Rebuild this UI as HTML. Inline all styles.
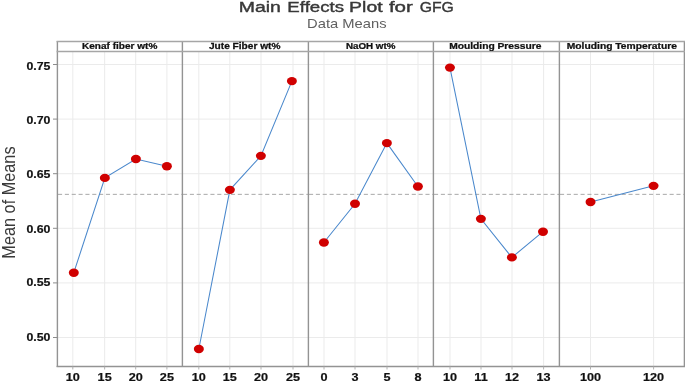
<!DOCTYPE html><html><head><meta charset="utf-8"><style>html,body{margin:0;padding:0;background:#fff;overflow:hidden}svg{display:block;will-change:transform}text{font-family:"Liberation Sans",sans-serif}</style></head><body>
<svg width="685" height="381" viewBox="0 0 685 381">
<rect width="685" height="381" fill="#fff"/>
<text transform="translate(238.70,11.6) scale(1.297,1)" font-size="15" fill="#383838" stroke="#383838" stroke-width="0.4" class="title">Main</text>
<text transform="translate(287.35,11.6) scale(1.245,1)" font-size="15" fill="#383838" stroke="#383838" stroke-width="0.4" class="title">Effects</text>
<text transform="translate(349.10,11.6) scale(1.296,1)" font-size="15" fill="#383838" stroke="#383838" stroke-width="0.4" class="title">Plot</text>
<text transform="translate(388.90,11.6) scale(1.372,1)" font-size="15" fill="#383838" stroke="#383838" stroke-width="0.4" class="title">for</text>
<text transform="translate(419.70,11.6) scale(1.053,1)" font-size="15" fill="#383838" stroke="#383838" stroke-width="0.4" class="title">GFG</text>
<text transform="translate(346.8,27.7) scale(1.18,1)" text-anchor="middle" font-size="12.5" fill="#606060" id="sub">Data Means</text>
<text transform="translate(15.4,202.55) scale(1.18,1) rotate(-90)" text-anchor="middle" font-size="16.3" fill="#3a3a3a" id="ylab">Mean of Means</text>
<line x1="57.5" x2="182.5" y1="64.50" y2="64.50" stroke="#ebebeb" stroke-width="1"/>
<line x1="57.5" x2="182.5" y1="119.10" y2="119.10" stroke="#ebebeb" stroke-width="1"/>
<line x1="57.5" x2="182.5" y1="173.70" y2="173.70" stroke="#ebebeb" stroke-width="1"/>
<line x1="57.5" x2="182.5" y1="228.30" y2="228.30" stroke="#ebebeb" stroke-width="1"/>
<line x1="57.5" x2="182.5" y1="282.90" y2="282.90" stroke="#ebebeb" stroke-width="1"/>
<line x1="57.5" x2="182.5" y1="337.50" y2="337.50" stroke="#ebebeb" stroke-width="1"/>
<line x1="72.80" x2="72.80" y1="51.5" y2="366.5" stroke="#ebebeb" stroke-width="1"/>
<line x1="104.65" x2="104.65" y1="51.5" y2="366.5" stroke="#ebebeb" stroke-width="1"/>
<line x1="135.70" x2="135.70" y1="51.5" y2="366.5" stroke="#ebebeb" stroke-width="1"/>
<line x1="166.90" x2="166.90" y1="51.5" y2="366.5" stroke="#ebebeb" stroke-width="1"/>
<line x1="182.5" x2="308.5" y1="64.50" y2="64.50" stroke="#ebebeb" stroke-width="1"/>
<line x1="182.5" x2="308.5" y1="119.10" y2="119.10" stroke="#ebebeb" stroke-width="1"/>
<line x1="182.5" x2="308.5" y1="173.70" y2="173.70" stroke="#ebebeb" stroke-width="1"/>
<line x1="182.5" x2="308.5" y1="228.30" y2="228.30" stroke="#ebebeb" stroke-width="1"/>
<line x1="182.5" x2="308.5" y1="282.90" y2="282.90" stroke="#ebebeb" stroke-width="1"/>
<line x1="182.5" x2="308.5" y1="337.50" y2="337.50" stroke="#ebebeb" stroke-width="1"/>
<line x1="198.80" x2="198.80" y1="51.5" y2="366.5" stroke="#ebebeb" stroke-width="1"/>
<line x1="229.80" x2="229.80" y1="51.5" y2="366.5" stroke="#ebebeb" stroke-width="1"/>
<line x1="261.00" x2="261.00" y1="51.5" y2="366.5" stroke="#ebebeb" stroke-width="1"/>
<line x1="293.00" x2="293.00" y1="51.5" y2="366.5" stroke="#ebebeb" stroke-width="1"/>
<line x1="308.5" x2="433.5" y1="64.50" y2="64.50" stroke="#ebebeb" stroke-width="1"/>
<line x1="308.5" x2="433.5" y1="119.10" y2="119.10" stroke="#ebebeb" stroke-width="1"/>
<line x1="308.5" x2="433.5" y1="173.70" y2="173.70" stroke="#ebebeb" stroke-width="1"/>
<line x1="308.5" x2="433.5" y1="228.30" y2="228.30" stroke="#ebebeb" stroke-width="1"/>
<line x1="308.5" x2="433.5" y1="282.90" y2="282.90" stroke="#ebebeb" stroke-width="1"/>
<line x1="308.5" x2="433.5" y1="337.50" y2="337.50" stroke="#ebebeb" stroke-width="1"/>
<line x1="324.00" x2="324.00" y1="51.5" y2="366.5" stroke="#ebebeb" stroke-width="1"/>
<line x1="355.00" x2="355.00" y1="51.5" y2="366.5" stroke="#ebebeb" stroke-width="1"/>
<line x1="387.00" x2="387.00" y1="51.5" y2="366.5" stroke="#ebebeb" stroke-width="1"/>
<line x1="418.00" x2="418.00" y1="51.5" y2="366.5" stroke="#ebebeb" stroke-width="1"/>
<line x1="433.5" x2="559.5" y1="64.50" y2="64.50" stroke="#ebebeb" stroke-width="1"/>
<line x1="433.5" x2="559.5" y1="119.10" y2="119.10" stroke="#ebebeb" stroke-width="1"/>
<line x1="433.5" x2="559.5" y1="173.70" y2="173.70" stroke="#ebebeb" stroke-width="1"/>
<line x1="433.5" x2="559.5" y1="228.30" y2="228.30" stroke="#ebebeb" stroke-width="1"/>
<line x1="433.5" x2="559.5" y1="282.90" y2="282.90" stroke="#ebebeb" stroke-width="1"/>
<line x1="433.5" x2="559.5" y1="337.50" y2="337.50" stroke="#ebebeb" stroke-width="1"/>
<line x1="450.00" x2="450.00" y1="51.5" y2="366.5" stroke="#ebebeb" stroke-width="1"/>
<line x1="481.00" x2="481.00" y1="51.5" y2="366.5" stroke="#ebebeb" stroke-width="1"/>
<line x1="512.00" x2="512.00" y1="51.5" y2="366.5" stroke="#ebebeb" stroke-width="1"/>
<line x1="543.60" x2="543.60" y1="51.5" y2="366.5" stroke="#ebebeb" stroke-width="1"/>
<line x1="559.5" x2="684.5" y1="64.50" y2="64.50" stroke="#ebebeb" stroke-width="1"/>
<line x1="559.5" x2="684.5" y1="119.10" y2="119.10" stroke="#ebebeb" stroke-width="1"/>
<line x1="559.5" x2="684.5" y1="173.70" y2="173.70" stroke="#ebebeb" stroke-width="1"/>
<line x1="559.5" x2="684.5" y1="228.30" y2="228.30" stroke="#ebebeb" stroke-width="1"/>
<line x1="559.5" x2="684.5" y1="282.90" y2="282.90" stroke="#ebebeb" stroke-width="1"/>
<line x1="559.5" x2="684.5" y1="337.50" y2="337.50" stroke="#ebebeb" stroke-width="1"/>
<line x1="590.50" x2="590.50" y1="51.5" y2="366.5" stroke="#ebebeb" stroke-width="1"/>
<line x1="653.60" x2="653.60" y1="51.5" y2="366.5" stroke="#ebebeb" stroke-width="1"/>
<line x1="58.0" x2="182.5" y1="194.35" y2="194.35" stroke="#a8a8a8" stroke-width="1" stroke-dasharray="4.1 2.75"/>
<line x1="183.0" x2="308.5" y1="194.35" y2="194.35" stroke="#a8a8a8" stroke-width="1" stroke-dasharray="4.1 2.75"/>
<line x1="309.0" x2="433.5" y1="194.35" y2="194.35" stroke="#a8a8a8" stroke-width="1" stroke-dasharray="4.1 2.75"/>
<line x1="434.0" x2="559.5" y1="194.35" y2="194.35" stroke="#a8a8a8" stroke-width="1" stroke-dasharray="4.1 2.75"/>
<line x1="560.0" x2="684.5" y1="194.35" y2="194.35" stroke="#a8a8a8" stroke-width="1" stroke-dasharray="4.1 2.75"/>
<line x1="57.4" x2="57.4" y1="40.9" y2="367.1" stroke="#939393" stroke-width="1.4"/>
<line x1="182.4" x2="182.4" y1="40.9" y2="367.1" stroke="#939393" stroke-width="1.4"/>
<line x1="308.4" x2="308.4" y1="40.9" y2="367.1" stroke="#939393" stroke-width="1.4"/>
<line x1="433.4" x2="433.4" y1="40.9" y2="367.1" stroke="#939393" stroke-width="1.4"/>
<line x1="559.4" x2="559.4" y1="40.9" y2="367.1" stroke="#939393" stroke-width="1.4"/>
<line x1="684.4" x2="684.4" y1="40.9" y2="367.1" stroke="#939393" stroke-width="1.4"/>
<line x1="56.6" x2="685.4" y1="41.5" y2="41.5" stroke="#a6a6a6" stroke-width="1.6"/>
<line x1="56.6" x2="685.4" y1="51.5" y2="51.5" stroke="#a6a6a6" stroke-width="1.6"/>
<line x1="56.6" x2="685.4" y1="366.5" y2="366.5" stroke="#939393" stroke-width="1.6"/>
<line x1="53" x2="57.5" y1="64.50" y2="64.50" stroke="#8c8c8c" stroke-width="1"/>
<text transform="translate(50.4,69.80) scale(1.12,1)" text-anchor="end" font-size="11" font-weight="bold" fill="#111" stroke="#111" stroke-width="0.2">0.75</text>
<line x1="53" x2="57.5" y1="119.10" y2="119.10" stroke="#8c8c8c" stroke-width="1"/>
<text transform="translate(50.4,123.70) scale(1.12,1)" text-anchor="end" font-size="11" font-weight="bold" fill="#111" stroke="#111" stroke-width="0.2">0.70</text>
<line x1="53" x2="57.5" y1="173.70" y2="173.70" stroke="#8c8c8c" stroke-width="1"/>
<text transform="translate(50.4,177.60) scale(1.12,1)" text-anchor="end" font-size="11" font-weight="bold" fill="#111" stroke="#111" stroke-width="0.2">0.65</text>
<line x1="53" x2="57.5" y1="228.30" y2="228.30" stroke="#8c8c8c" stroke-width="1"/>
<text transform="translate(50.4,232.90) scale(1.12,1)" text-anchor="end" font-size="11" font-weight="bold" fill="#111" stroke="#111" stroke-width="0.2">0.60</text>
<line x1="53" x2="57.5" y1="282.90" y2="282.90" stroke="#8c8c8c" stroke-width="1"/>
<text transform="translate(50.4,286.40) scale(1.12,1)" text-anchor="end" font-size="11" font-weight="bold" fill="#111" stroke="#111" stroke-width="0.2">0.55</text>
<line x1="53" x2="57.5" y1="337.50" y2="337.50" stroke="#8c8c8c" stroke-width="1"/>
<text transform="translate(50.4,341.20) scale(1.12,1)" text-anchor="end" font-size="11" font-weight="bold" fill="#111" stroke="#111" stroke-width="0.2">0.50</text>
<text transform="translate(119.65,49) scale(1.184,1)" text-anchor="middle" font-size="8.5" font-weight="bold" fill="#111" stroke="#111" stroke-width="0.25" class="strip">Kenaf fiber wt%</text>
<line x1="72.80" x2="72.80" y1="366.5" y2="369.5" stroke="#b0b0b0" stroke-width="1"/>
<text transform="translate(72.80,381.1) scale(1.15,1)" text-anchor="middle" font-size="11" font-weight="bold" fill="#111" stroke="#111" stroke-width="0.2">10</text>
<line x1="104.65" x2="104.65" y1="366.5" y2="369.5" stroke="#b0b0b0" stroke-width="1"/>
<text transform="translate(104.65,381.1) scale(1.15,1)" text-anchor="middle" font-size="11" font-weight="bold" fill="#111" stroke="#111" stroke-width="0.2">15</text>
<line x1="135.70" x2="135.70" y1="366.5" y2="369.5" stroke="#b0b0b0" stroke-width="1"/>
<text transform="translate(135.70,381.1) scale(1.15,1)" text-anchor="middle" font-size="11" font-weight="bold" fill="#111" stroke="#111" stroke-width="0.2">20</text>
<line x1="166.90" x2="166.90" y1="366.5" y2="369.5" stroke="#b0b0b0" stroke-width="1"/>
<text transform="translate(166.90,381.1) scale(1.15,1)" text-anchor="middle" font-size="11" font-weight="bold" fill="#111" stroke="#111" stroke-width="0.2">25</text>
<polyline points="73.80,272.70 104.85,177.90 135.90,159.00 166.90,166.30" fill="none" stroke="#4a88cc" stroke-width="1.05"/>
<ellipse cx="73.80" cy="272.70" rx="5" ry="4.2" fill="#d00000"/>
<ellipse cx="104.85" cy="177.90" rx="5" ry="4.2" fill="#d00000"/>
<ellipse cx="135.90" cy="159.00" rx="5" ry="4.2" fill="#d00000"/>
<ellipse cx="166.90" cy="166.30" rx="5" ry="4.2" fill="#d00000"/>
<text transform="translate(244.70,49) scale(1.194,1)" text-anchor="middle" font-size="8.5" font-weight="bold" fill="#111" stroke="#111" stroke-width="0.25" class="strip">Jute Fiber wt%</text>
<line x1="198.80" x2="198.80" y1="366.5" y2="369.5" stroke="#b0b0b0" stroke-width="1"/>
<text transform="translate(198.80,381.1) scale(1.15,1)" text-anchor="middle" font-size="11" font-weight="bold" fill="#111" stroke="#111" stroke-width="0.2">10</text>
<line x1="229.80" x2="229.80" y1="366.5" y2="369.5" stroke="#b0b0b0" stroke-width="1"/>
<text transform="translate(229.80,381.1) scale(1.15,1)" text-anchor="middle" font-size="11" font-weight="bold" fill="#111" stroke="#111" stroke-width="0.2">15</text>
<line x1="261.00" x2="261.00" y1="366.5" y2="369.5" stroke="#b0b0b0" stroke-width="1"/>
<text transform="translate(261.00,381.1) scale(1.15,1)" text-anchor="middle" font-size="11" font-weight="bold" fill="#111" stroke="#111" stroke-width="0.2">20</text>
<line x1="293.00" x2="293.00" y1="366.5" y2="369.5" stroke="#b0b0b0" stroke-width="1"/>
<text transform="translate(293.00,381.1) scale(1.15,1)" text-anchor="middle" font-size="11" font-weight="bold" fill="#111" stroke="#111" stroke-width="0.2">25</text>
<polyline points="198.85,349.00 229.90,189.85 260.90,155.85 291.90,81.10" fill="none" stroke="#4a88cc" stroke-width="1.05"/>
<ellipse cx="198.85" cy="349.00" rx="5" ry="4.2" fill="#d00000"/>
<ellipse cx="229.90" cy="189.85" rx="5" ry="4.2" fill="#d00000"/>
<ellipse cx="260.90" cy="155.85" rx="5" ry="4.2" fill="#d00000"/>
<ellipse cx="291.90" cy="81.10" rx="5" ry="4.2" fill="#d00000"/>
<text transform="translate(370.65,49) scale(1.154,1)" text-anchor="middle" font-size="8.5" font-weight="bold" fill="#111" stroke="#111" stroke-width="0.25" class="strip">NaOH wt%</text>
<line x1="324.00" x2="324.00" y1="366.5" y2="369.5" stroke="#b0b0b0" stroke-width="1"/>
<text transform="translate(324.00,381.1) scale(1.15,1)" text-anchor="middle" font-size="11" font-weight="bold" fill="#111" stroke="#111" stroke-width="0.2">0</text>
<line x1="355.00" x2="355.00" y1="366.5" y2="369.5" stroke="#b0b0b0" stroke-width="1"/>
<text transform="translate(355.00,381.1) scale(1.15,1)" text-anchor="middle" font-size="11" font-weight="bold" fill="#111" stroke="#111" stroke-width="0.2">3</text>
<line x1="387.00" x2="387.00" y1="366.5" y2="369.5" stroke="#b0b0b0" stroke-width="1"/>
<text transform="translate(387.00,381.1) scale(1.15,1)" text-anchor="middle" font-size="11" font-weight="bold" fill="#111" stroke="#111" stroke-width="0.2">5</text>
<line x1="418.00" x2="418.00" y1="366.5" y2="369.5" stroke="#b0b0b0" stroke-width="1"/>
<text transform="translate(418.00,381.1) scale(1.15,1)" text-anchor="middle" font-size="11" font-weight="bold" fill="#111" stroke="#111" stroke-width="0.2">8</text>
<polyline points="323.90,242.50 355.00,203.80 386.90,143.10 417.90,186.50" fill="none" stroke="#4a88cc" stroke-width="1.05"/>
<ellipse cx="323.90" cy="242.50" rx="5" ry="4.2" fill="#d00000"/>
<ellipse cx="355.00" cy="203.80" rx="5" ry="4.2" fill="#d00000"/>
<ellipse cx="386.90" cy="143.10" rx="5" ry="4.2" fill="#d00000"/>
<ellipse cx="417.90" cy="186.50" rx="5" ry="4.2" fill="#d00000"/>
<text transform="translate(495.25,49) scale(1.208,1)" text-anchor="middle" font-size="8.5" font-weight="bold" fill="#111" stroke="#111" stroke-width="0.25" class="strip">Moulding Pressure</text>
<line x1="450.00" x2="450.00" y1="366.5" y2="369.5" stroke="#b0b0b0" stroke-width="1"/>
<text transform="translate(450.00,381.1) scale(1.15,1)" text-anchor="middle" font-size="11" font-weight="bold" fill="#111" stroke="#111" stroke-width="0.2">10</text>
<line x1="481.00" x2="481.00" y1="366.5" y2="369.5" stroke="#b0b0b0" stroke-width="1"/>
<text transform="translate(481.00,381.1) scale(1.15,1)" text-anchor="middle" font-size="11" font-weight="bold" fill="#111" stroke="#111" stroke-width="0.2">11</text>
<line x1="512.00" x2="512.00" y1="366.5" y2="369.5" stroke="#b0b0b0" stroke-width="1"/>
<text transform="translate(512.00,381.1) scale(1.15,1)" text-anchor="middle" font-size="11" font-weight="bold" fill="#111" stroke="#111" stroke-width="0.2">12</text>
<line x1="543.60" x2="543.60" y1="366.5" y2="369.5" stroke="#b0b0b0" stroke-width="1"/>
<text transform="translate(543.60,381.1) scale(1.15,1)" text-anchor="middle" font-size="11" font-weight="bold" fill="#111" stroke="#111" stroke-width="0.2">13</text>
<polyline points="449.95,67.60 480.90,218.85 511.90,257.40 543.00,231.70" fill="none" stroke="#4a88cc" stroke-width="1.05"/>
<ellipse cx="449.95" cy="67.60" rx="5" ry="4.2" fill="#d00000"/>
<ellipse cx="480.90" cy="218.85" rx="5" ry="4.2" fill="#d00000"/>
<ellipse cx="511.90" cy="257.40" rx="5" ry="4.2" fill="#d00000"/>
<ellipse cx="543.00" cy="231.70" rx="5" ry="4.2" fill="#d00000"/>
<text transform="translate(621.85,49) scale(1.213,1)" text-anchor="middle" font-size="8.5" font-weight="bold" fill="#111" stroke="#111" stroke-width="0.25" class="strip">Moluding Temperature</text>
<line x1="590.50" x2="590.50" y1="366.5" y2="369.5" stroke="#b0b0b0" stroke-width="1"/>
<text transform="translate(590.50,381.1) scale(1.15,1)" text-anchor="middle" font-size="11" font-weight="bold" fill="#111" stroke="#111" stroke-width="0.2">100</text>
<line x1="653.60" x2="653.60" y1="366.5" y2="369.5" stroke="#b0b0b0" stroke-width="1"/>
<text transform="translate(653.60,381.1) scale(1.15,1)" text-anchor="middle" font-size="11" font-weight="bold" fill="#111" stroke="#111" stroke-width="0.2">120</text>
<polyline points="590.55,202.05 653.55,185.85" fill="none" stroke="#4a88cc" stroke-width="1.05"/>
<ellipse cx="590.55" cy="202.05" rx="5" ry="4.2" fill="#d00000"/>
<ellipse cx="653.55" cy="185.85" rx="5" ry="4.2" fill="#d00000"/>
</svg></body></html>
